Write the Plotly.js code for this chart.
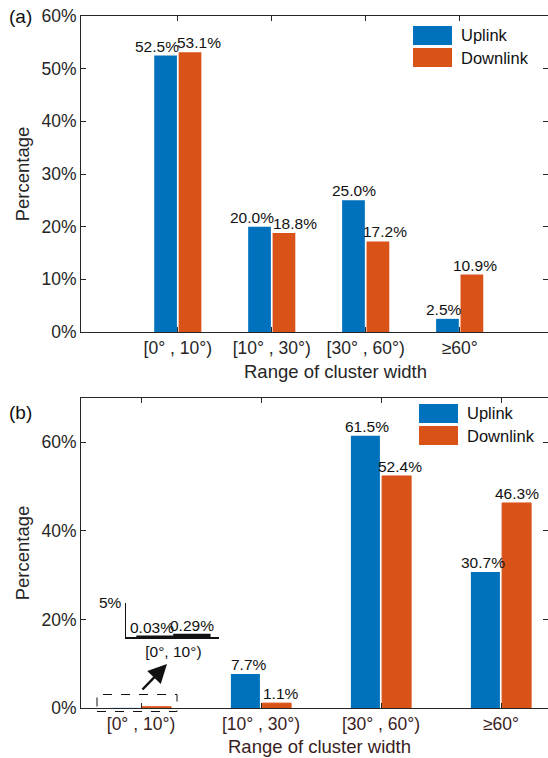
<!DOCTYPE html>
<html><head><meta charset="utf-8">
<script src="https://cdn.plot.ly/plotly-3.0.1.min.js"></script>
<style>html,body{margin:0;padding:0;background:#fff;overflow:hidden;}</style>
</head><body><div id="chart" style="width:548px;height:758px;"></div>
<script>
// ---------- data ----------
const categoriesA = ['[0° , 10°)', '[10° , 30°)', '[30° , 60°)', '≥60°'];
const uplinkA = [52.5, 20.0, 25.0, 2.5];
const downlinkA = [53.1, 18.8, 17.2, 10.9];
const categoriesB = ['[0° , 10°)', '[10° , 30°)', '[30° , 60°)', '≥60°'];
const uplinkB = [0.03, 7.7, 61.5, 30.7];
const downlinkB = [0.29, 1.1, 52.4, 46.3];
const insetCategory = ['[0°, 10°)'];
const yTicksA = [0, 10, 20, 30, 40, 50, 60];
const yTicksB = [0, 20, 40, 60];
const insetYTicks = [5];
const seriesNames = ['Uplink', 'Downlink'];
const xTitle = 'Range of cluster width';
const yTitle = 'Percentage';

// ---------- styling / layout constants ----------
const W = 548, H = 758;
const M = {l: 81, r: 0, t: 16, b: 50};
const PW = W - M.l - M.r, PH = H - M.t - M.b;
const BLUE = '#0072BD', ORANGE = '#D95319', AX = '#262626', BROWN = '#3a1d1d';
const FONT = '"Liberation Sans", Arial, Helvetica, sans-serif';
const BARGAP = 0.48, GROUPGAP = 0.07;
const px = x => (x - M.l) / PW;
const py = y => (H - M.b - y) / PH;
const pctLabel = d => v => v.toFixed(d) + '%';
const pctTicks = arr => arr.map(v => v + '%');

const posA = categoriesA.map((c, i) => i + 1);
const posB = categoriesB.map((c, i) => i + 1);
const slot = (1 - BARGAP) / 2;

// label horizontal nudges (pixels) to mimic the original placement
const shiftA = [[-9, -8, 1, -3], [9, 11, 7, 3]];
const shiftB = [[0, 4, 2, -2], [0, 4, 3, 0]];

const traces = [
  {type: 'bar', name: seriesNames[0], x: posA, y: uplinkA, xaxis: 'x', yaxis: 'y', marker: {color: BLUE}, showlegend: false, hoverinfo: 'skip'},
  {type: 'bar', name: seriesNames[1], x: posA, y: downlinkA, xaxis: 'x', yaxis: 'y', marker: {color: ORANGE}, showlegend: false, hoverinfo: 'skip'},
  {type: 'bar', name: seriesNames[0], x: posB, y: uplinkB, xaxis: 'x2', yaxis: 'y2', marker: {color: BLUE}, showlegend: false, hoverinfo: 'skip'},
  {type: 'bar', name: seriesNames[1], x: posB, y: downlinkB, xaxis: 'x2', yaxis: 'y2', marker: {color: ORANGE, line: {color: ORANGE, width: 1}}, showlegend: false, hoverinfo: 'skip'},
  {type: 'bar', name: seriesNames[0], x: [1], y: [uplinkB[0]], xaxis: 'x3', yaxis: 'y3', marker: {color: '#111', line: {color: '#111', width: 3}}, showlegend: false, hoverinfo: 'skip'},
  {type: 'bar', name: seriesNames[1], x: [1], y: [downlinkB[0]], xaxis: 'x3', yaxis: 'y3', marker: {color: '#111', line: {color: '#111', width: 3}}, showlegend: false, hoverinfo: 'skip'}
];

const annotations = [];
function valueLabels(pos, vals, sign, xref, yref, shifts, fmt, skipFirst) {
  vals.forEach((v, i) => {
    if (skipFirst && i === 0) return;
    annotations.push({x: pos[i] + sign * slot / 2, y: v, xref: xref, yref: yref, text: fmt(v),
      showarrow: false, yanchor: 'bottom', xanchor: 'center', xshift: shifts[i], yshift: -1,
      font: {family: FONT, size: 15.5, color: '#111'}});
  });
}
valueLabels(posA, uplinkA, -1, 'x', 'y', shiftA[0], pctLabel(1), false);
valueLabels(posA, downlinkA, 1, 'x', 'y', shiftA[1], pctLabel(1), false);
valueLabels(posB, uplinkB, -1, 'x2', 'y2', shiftB[0], pctLabel(1), true);
valueLabels(posB, downlinkB, 1, 'x2', 'y2', shiftB[1], pctLabel(1), true);
valueLabels([1], [uplinkB[0]], -1, 'x3', 'y3', [-3], pctLabel(2), false);
valueLabels([1], [downlinkB[0]], 1, 'x3', 'y3', [0], pctLabel(2), false);

// panel letters and x titles
annotations.push({xref: 'paper', yref: 'paper', x: px(20), y: py(16), text: '(a)', showarrow: false, xanchor: 'center', yanchor: 'middle', font: {family: FONT, size: 19, color: '#111'}});
annotations.push({xref: 'paper', yref: 'paper', x: px(20), y: py(412), text: '(b)', showarrow: false, xanchor: 'center', yanchor: 'middle', font: {family: FONT, size: 19, color: '#111'}});
annotations.push({xref: 'paper', yref: 'paper', x: px(335), y: py(371), text: xTitle, showarrow: false, xanchor: 'center', yanchor: 'middle', font: {family: FONT, size: 18.5, color: AX}});
annotations.push({xref: 'paper', yref: 'paper', x: px(319), y: py(746), text: xTitle, showarrow: false, xanchor: 'center', yanchor: 'middle', font: {family: FONT, size: 18.5, color: BROWN}});

// legends (drawn boxes + labels)
const shapes = [];
function legend(xl, ytop) {
  [[BLUE, seriesNames[0]], [ORANGE, seriesNames[1]]].forEach((it, k) => {
    const y0 = ytop + k * 22;
    shapes.push({type: 'rect', xref: 'paper', yref: 'paper', x0: px(xl), x1: px(xl + 39), y0: py(y0 + 19), y1: py(y0), fillcolor: it[0], line: {width: 0}});
    annotations.push({xref: 'paper', yref: 'paper', x: px(xl + 46), y: py(y0 + 9.5), text: it[1], showarrow: false, xanchor: 'left', yanchor: 'middle', font: {family: FONT, size: 16.5, color: '#111'}});
  });
}
legend(413, 26);
legend(419, 404);

// dashed zoom box and arrow
shapes.push({type: 'rect', xref: 'paper', yref: 'paper', x0: px(97), x1: px(177), y0: py(711.5), y1: py(694.5), line: {color: '#111', width: 1, dash: 'dash'}, fillcolor: 'rgba(0,0,0,0)'});
annotations.push({xref: 'paper', yref: 'paper', x: px(167), y: py(664), ax: -26, ay: 27, text: '', showarrow: true, arrowhead: 2, arrowsize: 1.5, arrowwidth: 2.5, arrowcolor: '#111', standoff: 0, startstandoff: 0});

const baseX = {showline: true, linecolor: AX, linewidth: 1, mirror: 'ticks', ticks: 'inside', ticklen: 5, tickcolor: AX, showgrid: false, zeroline: false, fixedrange: true};
const baseY = {showline: true, linecolor: AX, linewidth: 1, mirror: 'ticks', ticks: 'inside', ticklen: 5, tickcolor: AX, showgrid: false, zeroline: false, fixedrange: true};

const layout = {
  width: W, height: H, margin: M, paper_bgcolor: '#fff', plot_bgcolor: '#fff',
  barmode: 'group', bargap: BARGAP, bargroupgap: GROUPGAP, showlegend: false,
  font: {family: FONT, color: AX},
  xaxis: Object.assign({}, baseX, {anchor: 'y', domain: [0, 1], range: [-0.03, 4.94], tickvals: posA, ticktext: categoriesA, tickfont: {size: 17.5, color: AX}}),
  yaxis: Object.assign({}, baseY, {anchor: 'x', domain: [py(332), 1], range: [0, 60], tickvals: yTicksA, ticktext: pctTicks(yTicksA), tickfont: {size: 17.5, color: AX},
    title: {text: yTitle, font: {size: 18.5, color: AX}, standoff: 6}}),
  xaxis2: Object.assign({}, baseX, {anchor: 'y2', domain: [0, 1], range: [0.5, 0.5 + PW / 120], tickvals: posB, ticktext: categoriesB, tickfont: {size: 17.5, color: BROWN}}),
  yaxis2: Object.assign({}, baseY, {anchor: 'x2', domain: [0, py(398)], range: [0, 70], tickvals: yTicksB, ticktext: pctTicks(yTicksB), tickfont: {size: 17.5, color: AX},
    title: {text: yTitle, font: {size: 18.5, color: AX}, standoff: 6}}),
  xaxis3: {anchor: 'y3', domain: [px(126), px(219)], range: [0.666, 1.321], showline: true, linecolor: '#111', linewidth: 1.5, ticks: '', tickvals: [1], ticktext: insetCategory, tickfont: {size: 15.5, color: '#111'}, showgrid: false, zeroline: false, fixedrange: true},
  yaxis3: {anchor: 'x3', domain: [py(637.3), py(602.7)], range: [0, 5], showline: true, linecolor: '#111', linewidth: 1.5, ticks: 'inside', ticklen: 4, tickcolor: '#111', tickvals: insetYTicks, ticktext: pctTicks(insetYTicks), tickfont: {size: 15.5, color: '#111'}, showgrid: false, zeroline: false, fixedrange: true},
  annotations: annotations, shapes: shapes
};

Plotly.newPlot('chart', traces, layout, {staticPlot: true, displayModeBar: false});
</script>
</body></html>
